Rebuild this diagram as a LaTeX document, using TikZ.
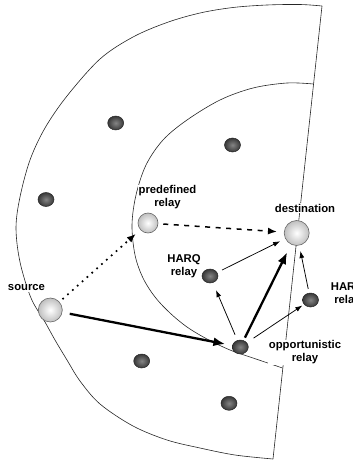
\documentclass[tikz,border=0pt]{standalone}
\usepackage{fontspec}
\setmainfont{Liberation Sans}
\usetikzlibrary{arrows.meta,shapes.geometric}
\begin{document}
\begin{tikzpicture}[x=1pt,y=-1pt,
  edge/.style={line width=0.6pt, black!85},
  relay/.style={ellipse, minimum width=16pt, minimum height=14pt, inner sep=0pt,
    draw=black!85, line width=0.5pt, inner color=black!48, outer color=black!78},
  terminal/.style={circle, inner sep=0pt, draw=black!60, line width=0.6pt,
    inner color=white, outer color=black!25},
  lbl/.style={font=\fontsize{11.3}{13}\selectfont\bfseries, align=center,
    fill=white, inner sep=0.6pt},
  weaklink/.style={line width=0.75pt, -{Latex[length=7pt,width=5pt]}},
  stronglink/.style={line width=2.3pt, -{Latex[length=12pt,width=9pt]}},
  dotlink/.style={line width=1.7pt, dash pattern=on 1.7pt off 4.8pt,
    -{Latex[length=9pt,width=7pt]}},
  dashlink/.style={line width=1.5pt, dash pattern=on 5pt off 5.5pt,
    -{Latex[length=9pt,width=7pt]}},
]
\useasboundingbox (0,0) rectangle (353,463);

% coverage regions: outer and inner ring boundaries
\draw[edge] plot[smooth, tension=0.55] coordinates {
  (322,6) (300,4.5) (267,5) (233,7.5) (200,13) (167,22.5) (133,37) (100,59)
  (67,96) (45,128) (30,160) (20,197) (16,228) (20,262) (31,298) (45,322)
  (55,340) (67,360) (80,381) (100,404) (133,426) (167,440) (200,448)
  (235,455) (273,459)};
\draw[edge] plot[smooth, tension=0.55] coordinates {
  (313.5,84) (287,83) (253,88) (220,100) (187,120) (163,140) (146,165)
  (136,195) (132,225) (135,255) (143,278) (155,297) (170,313) (187,327)
  (207,339) (230,350) (253,358) (282.5,368)};
\draw[edge] (322,6) -- (273,459);

% stations
\node[terminal, minimum size=24pt] (src) at (50.3,310) {};
\node[terminal, minimum size=20pt] (pre) at (148,223) {};
\node[terminal, minimum size=25pt] (dst) at (296.7,233) {};
\node[relay] (hl) at (210,276) {};
\node[relay] (hr) at (310.5,300) {};
\node[relay] (op) at (240.3,347) {};
\node[relay] (r1) at (115.7,123) {};
\node[relay] (r2) at (232.5,145) {};
\node[relay] (r3) at (46,199.5) {};
\node[relay] (r4) at (141.7,361) {};
\node[relay] (r5) at (229,403.3) {};

% links
\draw[dotlink, shorten <=4pt, shorten >=6pt] (src) -- (pre);
\draw[dashlink, shorten <=5pt, shorten >=7pt] (pre) -- (dst);
\draw[stronglink, shorten <=7.5pt, shorten >=7pt] (src) -- (op);
\draw[stronglink, shorten <=3pt, shorten >=8.5pt] (op) -- (dst);
\draw[weaklink, shorten <=6pt, shorten >=8pt] (op) -- (hl);
\draw[weaklink, shorten <=8pt, shorten >=2pt] (op) -- (hr);
\draw[weaklink, shorten <=5.5pt, shorten >=5.7pt] (hl) -- (dst);
\draw[weaklink, shorten <=4pt, shorten >=5.6pt] (hr) -- (dst);

% labels
\node[lbl] (lsrc) at (26.5,288) {source};
\node[lbl] (lpre) at (167.5,197) {predefined\\relay};
\node[lbl] (ldst) at (305,208) {destination};
\node[lbl] (lhl) at (184,266) {HARQ\\relay};
\node[lbl] (lhr) at (347.5,294.5) {HARQ\\relay};
\node[lbl] (lop) at (305,352.5) {opportunistic\\relay};
\end{tikzpicture}
\end{document}
